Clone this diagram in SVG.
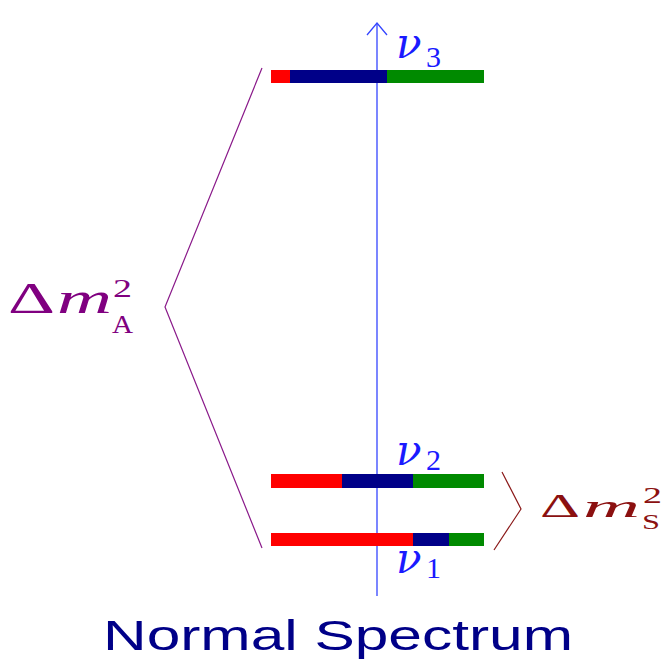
<svg xmlns="http://www.w3.org/2000/svg" width="667" height="659" viewBox="0 0 667 659">
<style>
.nu{font-family:"DejaVu Serif","Liberation Serif",serif;font-style:italic;fill:#1a1aff}
.sub{font-family:"Liberation Serif",serif;fill:#1a1aff}
.ma{fill:#800080;font-family:"Liberation Serif",serif}
.ms{fill:#8b1010;font-family:"Liberation Serif",serif}
.it{font-style:italic}
</style>
<rect width="667" height="659" fill="#ffffff"/>
<g id="connectors">
<line x1="377" y1="24" x2="377" y2="596" stroke="#3344ff" stroke-width="1.3"/>
<polyline points="367,35 377,23 387,35" fill="none" stroke="#3344ff" stroke-width="1.3"/>
<polyline points="262,68 165,307 262,548" fill="none" stroke="#8a1a8a" stroke-width="1.2"/>
<polyline points="502,472 521,509 494,550" fill="none" stroke="#8b1a1a" stroke-width="1.2"/>
</g>
<g id="nu3">
<rect x="271" y="70" width="19" height="13" fill="#ff0000"/>
<rect x="290" y="70" width="97" height="13" fill="#000088"/>
<rect x="387" y="70" width="97" height="13" fill="#008a00"/>
<text class="nu" x="396" y="58" font-size="42">ν</text>
<text class="sub" x="426" y="67" font-size="30">3</text>
</g>
<g id="nu2">
<rect x="271" y="474" width="71" height="14" fill="#ff0000"/>
<rect x="342" y="474" width="71" height="14" fill="#000088"/>
<rect x="413" y="474" width="71" height="14" fill="#008a00"/>
<text class="nu" x="396" y="465" font-size="42">ν</text>
<text class="sub" x="426" y="470" font-size="30">2</text>
</g>
<g id="nu1">
<rect x="271" y="533" width="142" height="13" fill="#ff0000"/>
<rect x="413" y="533" width="36" height="13" fill="#000088"/>
<rect x="449" y="533" width="35" height="13" fill="#008a00"/>
<text class="nu" x="396" y="573" font-size="42">ν</text>
<text class="sub" x="426" y="578" font-size="30">1</text>
</g>
<g id="dmA">
<text class="ma" x="8" y="313" font-size="45" textLength="47" lengthAdjust="spacingAndGlyphs">Δ</text>
<text class="ma it" x="57" y="313" font-size="44" textLength="55" lengthAdjust="spacingAndGlyphs">m</text>
<text class="ma" x="113" y="297" font-size="25" textLength="19" lengthAdjust="spacingAndGlyphs">2</text>
<text class="ma" x="112" y="333" font-size="26" textLength="21" lengthAdjust="spacingAndGlyphs">A</text>
</g>
<g id="dmS">
<text class="ms" x="540" y="517" font-size="34" textLength="40" lengthAdjust="spacingAndGlyphs">Δ</text>
<text class="ms it" x="583" y="517" font-size="32" textLength="57" lengthAdjust="spacingAndGlyphs">m</text>
<text class="ms" x="643" y="503" font-size="24" textLength="19" lengthAdjust="spacingAndGlyphs">2</text>
<text class="ms" x="642" y="529" font-size="22" textLength="18" lengthAdjust="spacingAndGlyphs">S</text>
</g>
<g id="title">
<text x="103" y="650" font-family="Liberation Sans,sans-serif" font-size="42" fill="#000088" textLength="470" lengthAdjust="spacingAndGlyphs">Normal Spectrum</text>
</g>
</svg>
